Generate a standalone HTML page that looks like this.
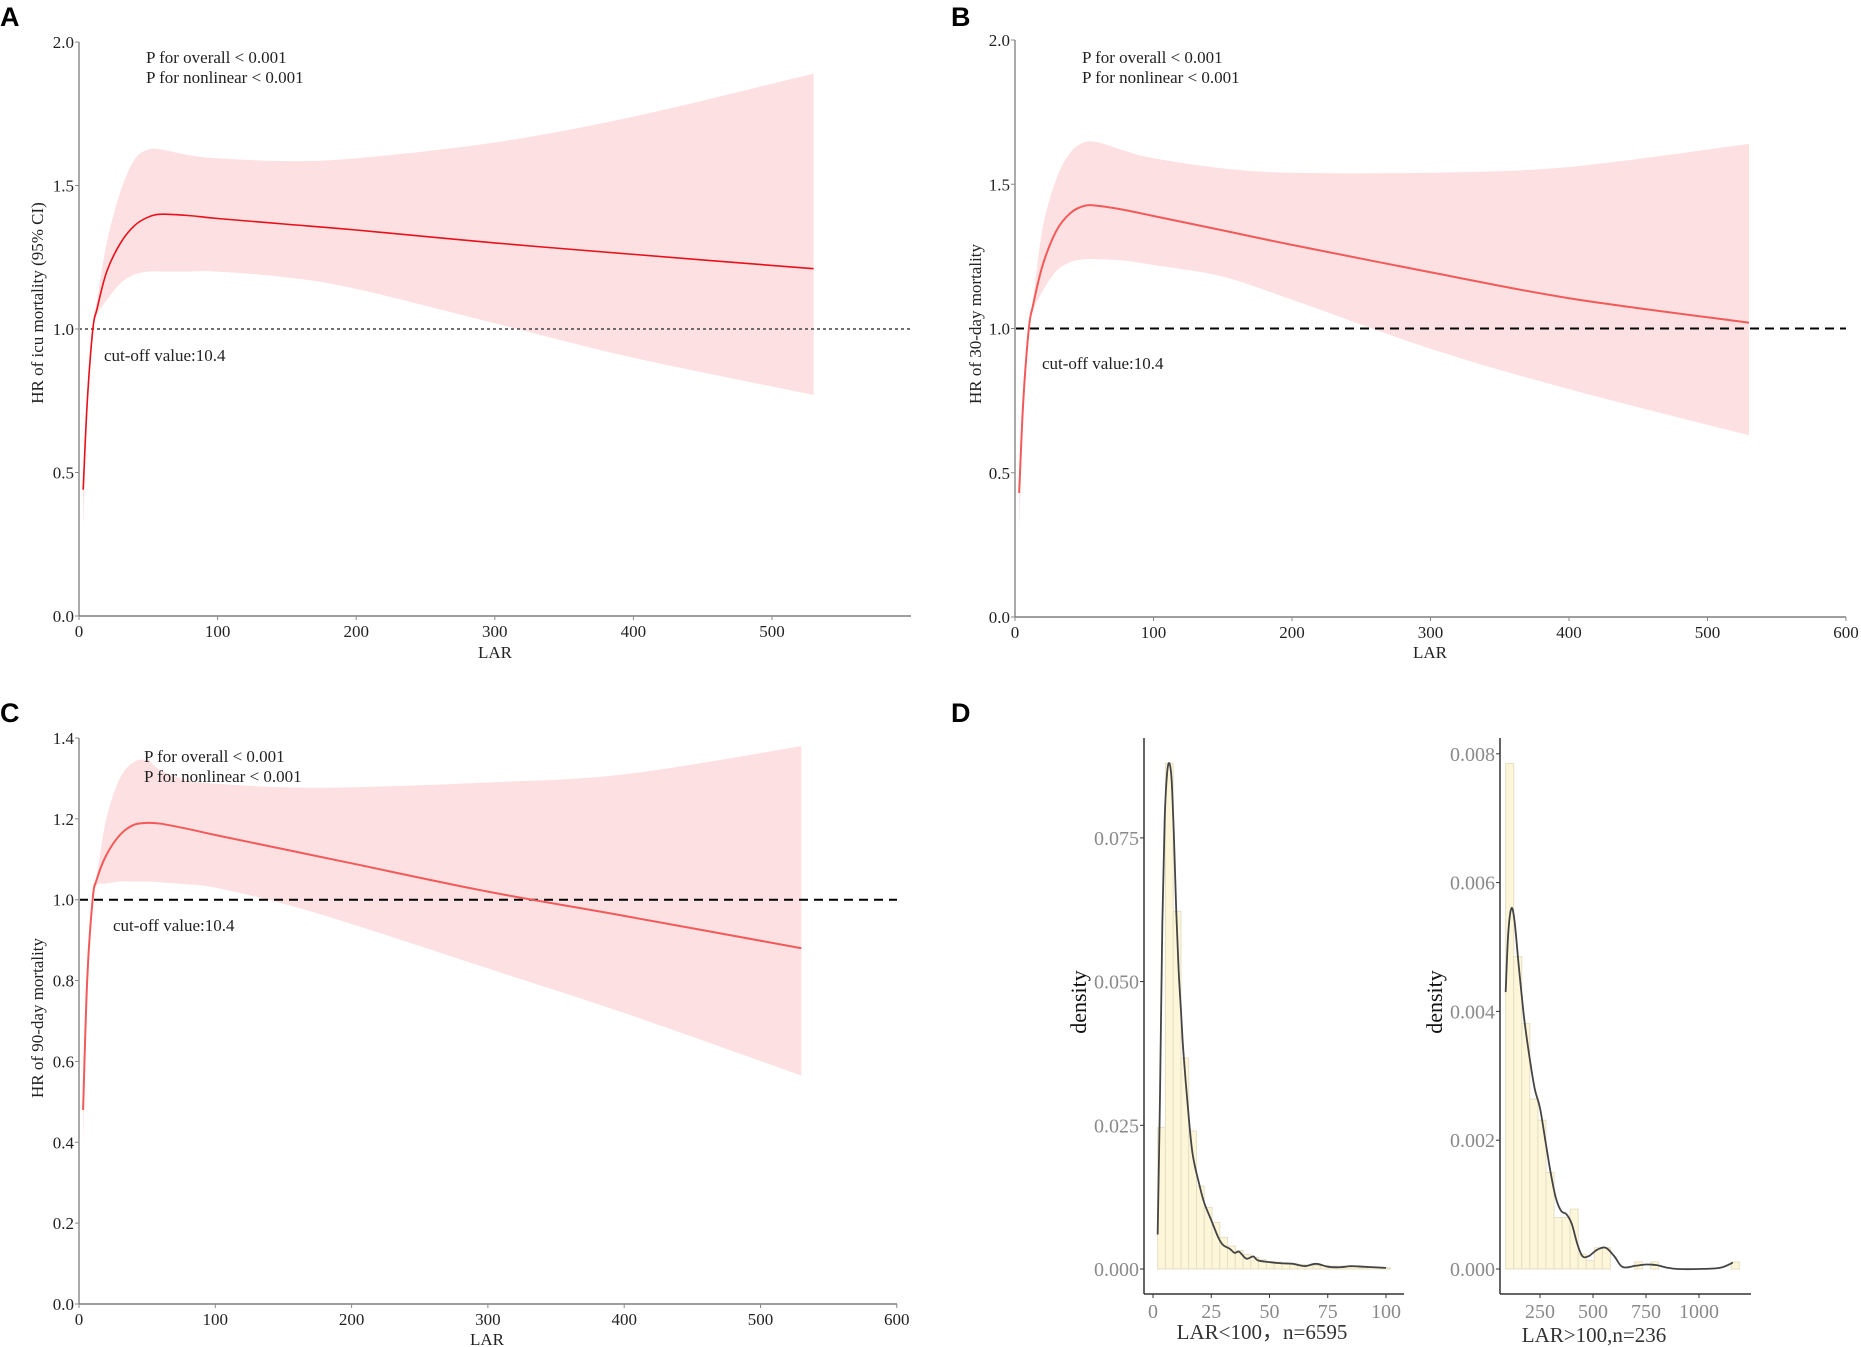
<!DOCTYPE html>
<html><head><meta charset="utf-8">
<style>
html,body{margin:0;padding:0;background:#fff;}
svg{display:block;}
text{font-family:"Liberation Serif",serif;}
.tick{font-size:17px;fill:#222;}
.lbl{font-family:"Liberation Sans",sans-serif;font-weight:bold;font-size:27px;fill:#000;}
.dt{font-size:20px;fill:#8a8a8a;}
</style></head>
<body>
<svg id="fig" width="1861" height="1347" viewBox="0 0 1861 1347" xmlns="http://www.w3.org/2000/svg">
<text class="lbl" x="0" y="26">A</text>
<text class="lbl" x="951" y="26">B</text>
<text class="lbl" x="0" y="722">C</text>
<text class="lbl" x="951" y="722">D</text>
</svg>
<script>
const NS='http://www.w3.org/2000/svg';
const svg=document.getElementById('fig');
function mk(tag,attrs,parent,txt){const e=document.createElementNS(NS,tag);for(const k in attrs)e.setAttribute(k,attrs[k]);if(txt!==undefined)e.textContent=txt;(parent||svg).appendChild(e);return e;}
// smooth path through points (Catmull-Rom -> cubic Bezier)
function smooth(pts,start){
  let d=(start||'M')+pts[0][0]+','+pts[0][1];
  for(let i=0;i<pts.length-1;i++){
    const p0=pts[i-1]||pts[i],p1=pts[i],p2=pts[i+1],p3=pts[i+2]||p2;
    const c1=[p1[0]+(p2[0]-p0[0])/6,p1[1]+(p2[1]-p0[1])/6];
    const c2=[p2[0]-(p3[0]-p1[0])/6,p2[1]-(p3[1]-p1[1])/6];
    d+='C'+c1[0]+','+c1[1]+' '+c2[0]+','+c2[1]+' '+p2[0]+','+p2[1];
  }
  return d;
}

// ---- Panel A data ----
const aX=[3,6,10,13,20,30,40,50,60,80,100,150,200,300,400,530];
const aHR=[0.44,0.75,1.0,1.07,1.2,1.3,1.36,1.39,1.40,1.395,1.385,1.365,1.345,1.30,1.26,1.21];
const aUp=[0.45,0.78,1.02,1.1,1.3,1.48,1.59,1.625,1.625,1.605,1.595,1.585,1.595,1.65,1.74,1.89];
const aLo=[0.30,0.70,0.98,1.05,1.1,1.16,1.19,1.2,1.2,1.2,1.2,1.18,1.14,1.02,0.9,0.77];
// ---- Panel B data ----
const bX=[3,6,10,13,20,30,40,50,60,80,100,150,200,300,400,530];
const bHR=[0.43,0.75,1.0,1.08,1.22,1.34,1.40,1.425,1.425,1.41,1.39,1.34,1.29,1.195,1.105,1.02];
const bUp=[0.44,0.78,1.02,1.1,1.35,1.52,1.61,1.645,1.645,1.615,1.59,1.555,1.54,1.54,1.56,1.64];
const bLo=[0.30,0.70,0.98,1.06,1.13,1.2,1.23,1.24,1.24,1.235,1.22,1.18,1.1,0.93,0.79,0.63];
// ---- Panel C data ----
const cX=[3,6,10,13,20,30,40,50,60,80,100,150,200,300,400,530];
const cHR=[0.48,0.8,1.0,1.05,1.11,1.16,1.185,1.19,1.188,1.175,1.16,1.125,1.09,1.02,0.96,0.88];
const cUp=[0.48,0.82,1.02,1.06,1.2,1.3,1.34,1.345,1.32,1.295,1.287,1.278,1.278,1.29,1.31,1.38];
const cLo=[0.38,0.78,0.99,1.035,1.04,1.045,1.045,1.045,1.043,1.038,1.03,0.99,0.94,0.83,0.72,0.565];
const rcsYTicksAB=[0,0.5,1.0,1.5,2.0];
const rcsYTicksC=[0,0.2,0.4,0.6,0.8,1.0,1.2,1.4];
const rcsXTicksA=[0,100,200,300,400,500];
const rcsXTicksBC=[0,100,200,300,400,500,600];

function rcs(cfg){
  const g=mk('g',{});
  
  
  const sx=v=>cfg.x0+v*cfg.kx, sy=v=>cfg.y0-v*cfg.ky;
  const upPts=cfg.X.map((x,i)=>[sx(x),sy(cfg.up[i])]);
  const loPts=cfg.X.map((x,i)=>[sx(x),sy(cfg.lo[i])]).reverse();
  const d=smooth(upPts)+smooth(loPts,'L')+'Z';
  const band=mk('path',{d:d,fill:'#fde0e1',stroke:'none'},g);
  
  
  const ref=mk('line',{x1:cfg.x0,x2:cfg.xEnd,y1:sy(1),y2:sy(1),stroke:cfg.refColor,'stroke-width':cfg.refW,'stroke-dasharray':cfg.refDash},g);
  
  
  const ln=mk('path',{d:smooth(cfg.X.map((x,i)=>[sx(x),sy(cfg.hr[i])])),fill:'none',stroke:cfg.lineColor,'stroke-width':cfg.lw,'stroke-linejoin':'round'},g);
  
  
  const ya=mk('line',{x1:cfg.x0,x2:cfg.x0,y1:sy(cfg.yT[cfg.yT.length-1]),y2:cfg.y0,stroke:'#aaa','stroke-width':2},g);
  
  
  const xa=mk('line',{x1:cfg.x0,x2:cfg.xEnd,y1:cfg.y0,y2:cfg.y0,stroke:'#666','stroke-width':1.3},g);
  
  
  cfg.yT.forEach(v=>{
    mk('line',{x1:cfg.x0-4,x2:cfg.x0,y1:sy(v),y2:sy(v),stroke:'#888'},g);
    const t=mk('text',{class:'tick',x:cfg.x0-5,y:sy(v)+6,'text-anchor':'end'},g,v.toFixed(1));
    
    
  });
  cfg.xT.forEach(v=>{
    mk('line',{x1:sx(v),x2:sx(v),y1:cfg.y0,y2:cfg.y0+4,stroke:'#888'},g);
    const t=mk('text',{class:'tick',x:sx(v),y:cfg.y0+21,'text-anchor':'middle'},g,String(v));
    
    
  });
  const xt=mk('text',{class:'tick',x:cfg.xLab[0],y:cfg.xLab[1],'text-anchor':'middle'},g,'LAR');
  
  
  const yt=mk('text',{class:'tick',x:0,y:0,'text-anchor':'middle',transform:`translate(${cfg.yLab[0]},${cfg.yLab[1]}) rotate(-90)`},g,cfg.yTitle);
  
  
  const p1=mk('text',{class:'tick',x:cfg.pPos[0],y:cfg.pPos[1]},g,'P for overall < 0.001');
  
  
  const p2=mk('text',{class:'tick',x:cfg.pPos[0],y:cfg.pPos[1]+20},g,'P for nonlinear < 0.001');
  
  
  const co=mk('text',{class:'tick',x:cfg.cPos[0],y:cfg.cPos[1]},g,'cut-off value:10.4');
  
  
}

rcs({name:'panel-a-icu-mortality',x0:79,kx:1.386,y0:616,ky:287,xEnd:911,X:aX,hr:aHR,up:aUp,lo:aLo,lw:1.6,
  lineColor:'#e8101a',refColor:'#444',refW:1.5,refDash:'3,3',yT:rcsYTicksAB,xT:rcsXTicksA,
  xLab:[495,658],yLab:[43,303],yTitle:'HR of icu mortality (95% CI)',pPos:[146,63],cPos:[104,361]});
rcs({name:'panel-b-30-day-mortality',x0:1015,kx:1.385,y0:617,ky:288.5,xEnd:1846,X:bX,hr:bHR,up:bUp,lo:bLo,lw:2,
  lineColor:'#f25a5a',refColor:'#000',refW:2,refDash:'9,6',yT:rcsYTicksAB,xT:rcsXTicksBC,
  xLab:[1430,658],yLab:[981,324],yTitle:'HR of 30-day mortality',pPos:[1082,63],cPos:[1042,369]});
rcs({name:'panel-c-90-day-mortality',x0:79,kx:1.363,y0:1304,ky:404.3,xEnd:897,X:cX,hr:cHR,up:cUp,lo:cLo,lw:2,
  lineColor:'#f25a5a',refColor:'#000',refW:2,refDash:'9,6',yT:rcsYTicksC,xT:rcsXTicksBC,
  xLab:[487,1345],yLab:[43,1018],yTitle:'HR of 90-day mortality',pPos:[144,762],cPos:[113,931]});

// ---- Panel D data ----
const dLeftBinStart=[2,5.33,8.67,12,15.33,18.67,22,25.33,28.67,32,35.33,38.67,42,45.33,48.67,52,55.33,58.67,62,65.33,68.67,72,75.33,78.67,82,85.33,88.67,92,95.33,98.67];
const dLeftBinHeight=[0.0246,0.088,0.0622,0.0367,0.024,0.0144,0.0107,0.0081,0.0055,0.0040,0.0032,0.0025,0.0020,0.0016,0.0013,0.0012,0.0010,0.0009,0.0008,0.0007,0.0006,0.0006,0.0005,0.0005,0.0004,0.0004,0.0003,0.0003,0.0003,0.0002];
const dLeftCurveX=[2,3,4,5,6,7,8,9,10,11,12,13,15,17,20,22,25,28,30,33,35,37,40,43,45,50,55,60,65,70,75,80,85,90,95,100];
const dLeftCurveY=[0.006,0.03,0.06,0.078,0.086,0.088,0.085,0.075,0.062,0.052,0.045,0.038,0.028,0.02,0.0145,0.0115,0.0085,0.0055,0.0042,0.0035,0.0028,0.003,0.0018,0.0022,0.0015,0.0012,0.001,0.0009,0.0005,0.0009,0.0004,0.0003,0.0005,0.0004,0.0003,0.0002];
const dLeftYTicks=[0,0.025,0.05,0.075];
const dLeftXTicks=[0,25,50,75,100];
const dRightBinStart=[88,126,164,202,240,278,316,354,392,430,468,506,544,582,620,658,696,734,772,810,848,886,924,962,1000,1038,1076,1114,1152];
const dRightBinHeight=[0.00785,0.00485,0.00381,0.00264,0.00231,0.0015,0.0008,0.0008,0.00093,0.00023,0.00013,0.00033,0.00033,0,0,0,0.00011,0,0.00011,0,0,0,0,0,0,0,0,0,0.00011];
const dRightCurveX=[88,100,115,130,150,175,200,225,250,275,300,325,350,375,400,425,450,480,520,560,600,640,700,750,800,850,900,1000,1100,1160];
const dRightCurveY=[0.0043,0.0052,0.0056,0.0054,0.0047,0.0039,0.0033,0.0028,0.0025,0.0020,0.0015,0.0011,0.0009,0.00085,0.0007,0.0004,0.0002,0.0002,0.0003,0.00033,0.0002,0.00003,0.00005,0.00007,0.00006,0.00002,0,0,0.00002,0.0001];
const dRightYTicks=[0,0.002,0.004,0.006,0.008];
const dRightXTicks=[250,500,750,1000];

function hist(cfg){
  const g=mk('g',{});
  
  
  const sx=v=>cfg.x0+v*cfg.kx, sy=v=>cfg.y0-v*cfg.ky;
  cfg.bs.forEach((b,i)=>{
    const h=cfg.bh[i]*cfg.ky;
    const r=mk('rect',{x:sx(b),y:cfg.y0-h,width:cfg.bw*cfg.kx,height:h,fill:'#fdf6d8',stroke:'#e6dfc4','stroke-width':1},g);
    
    
  });
  const c=mk('path',{d:smooth(cfg.cx.map((x,i)=>[sx(x),sy(cfg.cy[i])])),fill:'none',stroke:'#444','stroke-width':1.8,'stroke-linejoin':'round'},g);
  
  
  const ya=mk('line',{x1:cfg.ax,x2:cfg.ax,y1:cfg.top,y2:cfg.bot,stroke:'#333','stroke-width':1.5},g);
  
  
  const xa=mk('line',{x1:cfg.ax,x2:cfg.right,y1:cfg.bot,y2:cfg.bot,stroke:'#333','stroke-width':1.5},g);
  
  
  cfg.yT.forEach(v=>{
    mk('line',{x1:cfg.ax-4,x2:cfg.ax,y1:sy(v),y2:sy(v),stroke:'#333'},g);
    const t=mk('text',{class:'dt',x:cfg.ax-5,y:sy(v)+7,'text-anchor':'end'},g,v.toFixed(3));
    
    
  });
  cfg.xT.forEach(v=>{
    mk('line',{x1:sx(v),x2:sx(v),y1:cfg.bot,y2:cfg.bot+4,stroke:'#333'},g);
    const t=mk('text',{class:'dt',x:sx(v),y:cfg.bot+24,'text-anchor':'middle'},g,String(v));
    
    
  });
  const yt=mk('text',{x:0,y:0,'font-size':22,fill:'#111','text-anchor':'middle',transform:`translate(${cfg.ax-58},${(cfg.top+cfg.bot)/2-14}) rotate(-90)`},g,'density');
  
  
  const xt=mk('text',{x:cfg.xl[0],y:cfg.xl[1],'font-size':21,fill:'#333','text-anchor':'middle'},g,cfg.xTitle);
  
  
}
hist({name:'panel-d-density-lar-under-100',x0:1153,kx:2.33,y0:1269,ky:5748,bw:3.33,bs:dLeftBinStart,bh:dLeftBinHeight,cx:dLeftCurveX,cy:dLeftCurveY,
  ax:1144,top:738,bot:1294,right:1404,yT:dLeftYTicks,xT:dLeftXTicks,xl:[1262,1339],xTitle:'LAR<100，n=6595'});
hist({name:'panel-d-density-lar-over-100',x0:1487,kx:0.212,y0:1269,ky:64400,bw:38,bs:dRightBinStart,bh:dRightBinHeight,cx:dRightCurveX,cy:dRightCurveY,
  ax:1500,top:738,bot:1294,right:1751,yT:dRightYTicks,xT:dRightXTicks,xl:[1594,1342],xTitle:'LAR>100,n=236'});
</script>
</body></html>
